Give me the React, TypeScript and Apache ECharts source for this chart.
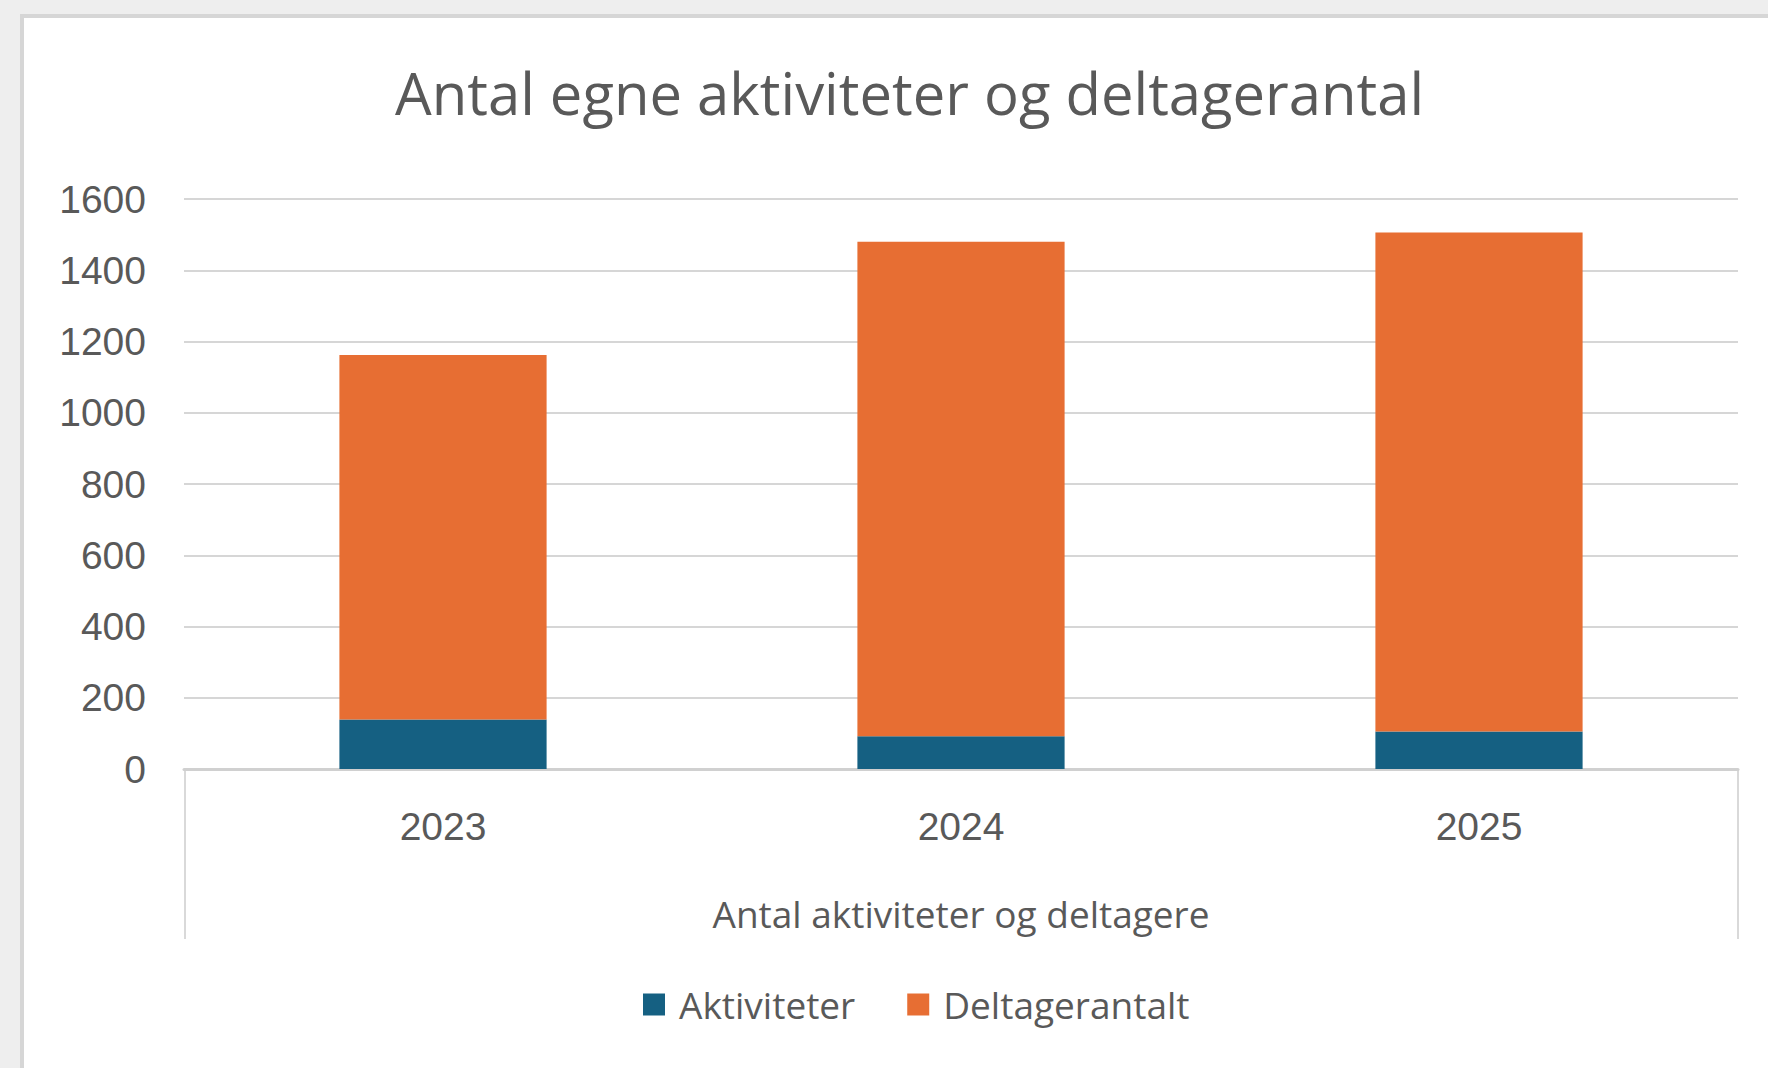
import React, { useEffect, useRef } from "react";
import * as echarts from "echarts";

const titleText = "Antal egne aktiviteter og deltagerantal";
const axisTitle = "Antal aktiviteter og deltagere";
const categories = ["2023", "2024", "2025"];
const seriesNames = ["Aktiviteter", "Deltagerantalt"];
const aktiviteter = [139, 92, 105];
const deltagerantal = [1023, 1388, 1401];
const yMin = 0;
const yMax = 1600;
const yStep = 200;

const GRID_LEFT = 184;
const GRID_RIGHT_X = 1738;
const GRID_TOP = 199;
const GRID_BOTTOM_Y = 769;
const W = 1768;
const H = 1068;

export default function App() {
  const ref = useRef<HTMLDivElement>(null);

  useEffect(() => {
    if (!ref.current) return;
    const chart = echarts.init(ref.current, undefined, { renderer: "svg" });
    const textColor = "#595959";
    const sansAptos = "'Open Sans', 'Noto Sans', sans-serif";
    const arial = "'Liberation Sans', Arial, sans-serif";
    chart.setOption({
      animation: false,
      backgroundColor: "transparent",
      title: {
        text: titleText,
        left: 395,
        top: 63,
        padding: 0,
        textStyle: {
          fontFamily: sansAptos,
          fontSize: 58,
          fontWeight: "normal",
          color: textColor,
        },
      },
      legend: {
        data: seriesNames,
        left: 643,
        top: 986,
        padding: 0,
        icon: "rect",
        itemWidth: 22,
        itemHeight: 22,
        itemGap: 52,
        textStyle: {
          fontFamily: sansAptos,
          fontSize: 37,
          color: textColor,
          padding: [0, 0, 0, 9],
        },
      },
      grid: {
        left: GRID_LEFT,
        right: W - GRID_RIGHT_X,
        top: GRID_TOP,
        bottom: H - GRID_BOTTOM_Y,
        containLabel: false,
      },
      xAxis: {
        type: "category",
        data: categories,
        boundaryGap: true,
        name: axisTitle,
        nameLocation: "middle",
        nameGap: 126,
        nameTextStyle: {
          fontFamily: sansAptos,
          fontSize: 37,
          color: textColor,
        },
        axisLine: { show: true, lineStyle: { color: "#d0d0d0", width: 3 } },
        axisTick: { show: false },
        axisLabel: {
          fontFamily: arial,
          fontSize: 39,
          color: textColor,
          margin: 38,
        },
        splitLine: { show: false },
      },
      yAxis: {
        type: "value",
        min: yMin,
        max: yMax,
        interval: yStep,
        axisLine: { show: false },
        axisTick: { show: false },
        axisLabel: {
          fontFamily: arial,
          fontSize: 39,
          color: textColor,
          margin: 38,
          formatter: (v: number) => String(v),
        },
        splitLine: { show: true, lineStyle: { color: "#d6d6d6", width: 2 } },
      },
      graphic: [
        {
          type: "line",
          shape: { x1: GRID_LEFT + 1, y1: GRID_BOTTOM_Y, x2: GRID_LEFT + 1, y2: 939 },
          style: { stroke: "#d9d9d9", lineWidth: 2 },
        },
        {
          type: "line",
          shape: { x1: GRID_RIGHT_X, y1: GRID_BOTTOM_Y, x2: GRID_RIGHT_X, y2: 939 },
          style: { stroke: "#d9d9d9", lineWidth: 2 },
        },
      ],
      series: [
        {
          name: seriesNames[0],
          type: "bar",
          stack: "total",
          data: aktiviteter,
          barWidth: "40%",
          itemStyle: { color: "#156082" },
        },
        {
          name: seriesNames[1],
          type: "bar",
          stack: "total",
          data: deltagerantal,
          barWidth: "40%",
          itemStyle: { color: "#E76E33" },
        },
      ],
    });
    return () => chart.dispose();
  }, []);

  return (
    <div
      style={{
        position: "fixed",
        left: 0,
        top: 0,
        width: W,
        height: H,
        background: "#eeeeee",
        overflow: "hidden",
      }}
    >
      <div
        style={{
          position: "absolute",
          left: 20,
          top: 14,
          width: 1820,
          height: 1100,
          background: "#ffffff",
          border: "4px solid #d6d6d6",
          boxSizing: "border-box",
        }}
      />
      <div
        ref={ref}
        style={{ position: "absolute", left: 0, top: 0, width: W, height: H }}
      />
    </div>
  );
}
